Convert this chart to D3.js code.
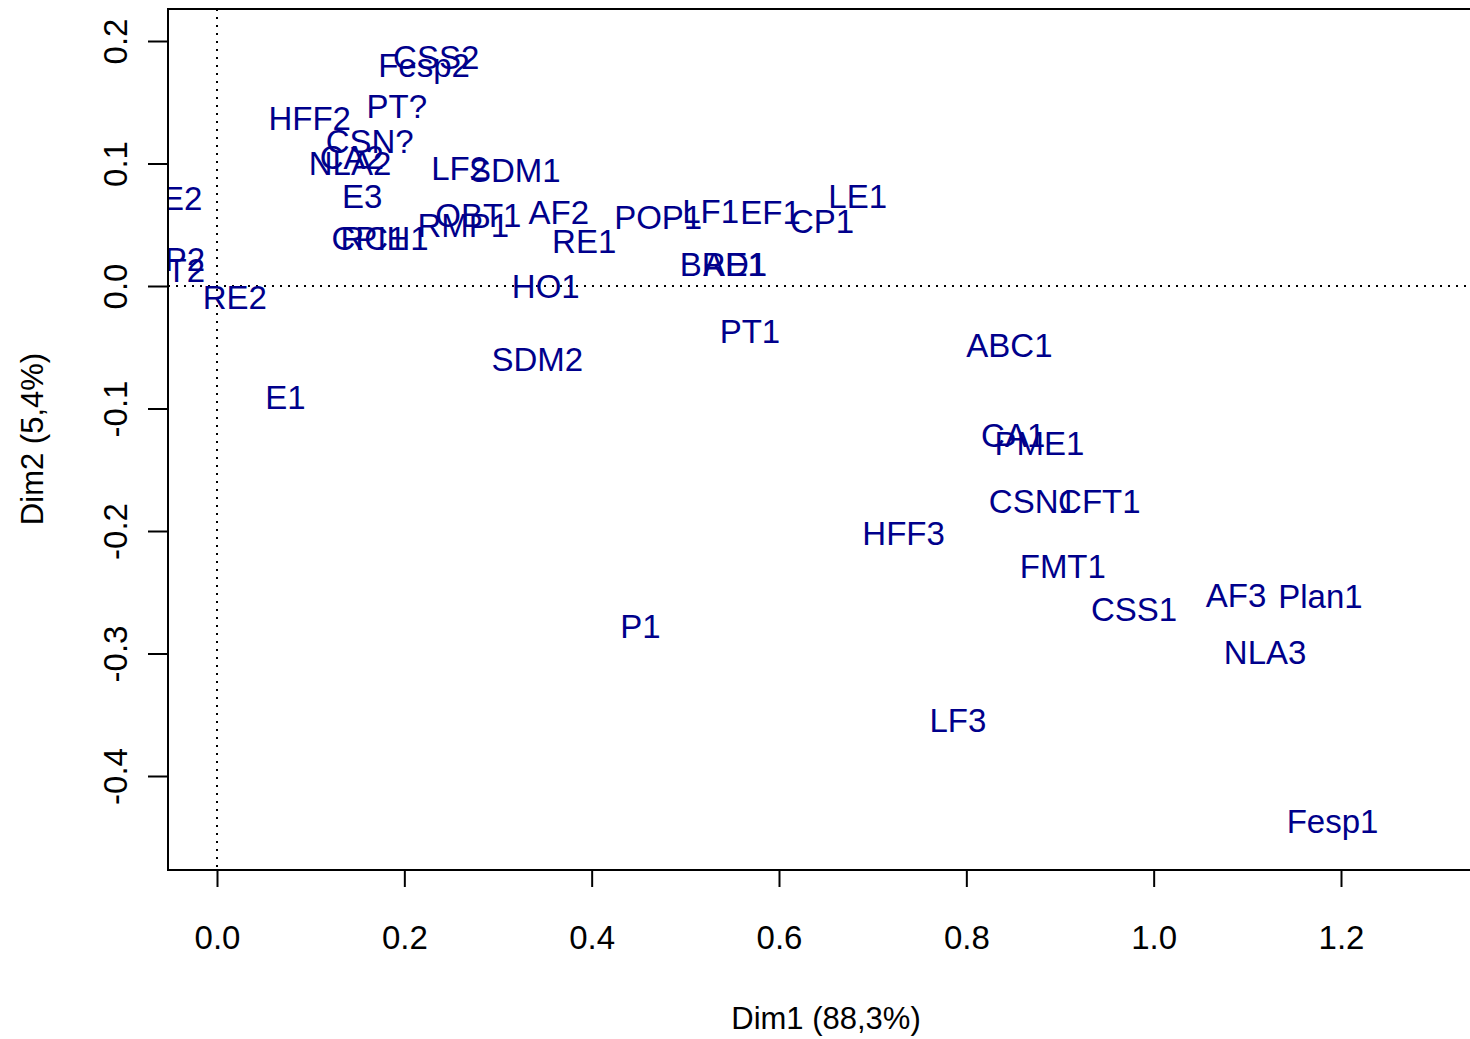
<!DOCTYPE html>
<html>
<head>
<meta charset="utf-8">
<script src="https://cdn.jsdelivr.net/npm/d3@7"></script>
<style>
  body { margin: 0; background: #fff; }
  text { font-family: "Liberation Sans", Arial, Helvetica, sans-serif; }
</style>
</head>
<body>
<svg width="1470" height="1039"></svg>
<script>
// CA factor map labels: name, Dim1, Dim2
const labels = ['CSS2', 'Fesp2', 'PT?', 'HFF2', 'CSN?', 'NLA2', 'CA2', 'LF2', 'SDM1', 'E3',
  'CPIH1', 'RC1', 'OBT1', 'RMP1', 'AF2', 'RE1', 'POP1', 'LF1', 'EF1', 'CP1', 'LE1',
  'BRE1', 'AD1', 'HO1', 'RE2', 'LE2', 'CP2', 'PT2', 'PT1', 'SDM2', 'E1', 'P1',
  'ABC1', 'CA1', 'PME1', 'CSN1', 'CFT1', 'HFF3', 'FMT1', 'CSS1', 'AF3', 'Plan1',
  'NLA3', 'LF3', 'Fesp1']
const dim1 = [0.234, 0.221, 0.192, 0.099, 0.163, 0.142, 0.144, 0.259, 0.318, 0.155,
  0.174, 0.167, 0.279, 0.263, 0.365, 0.392, 0.471, 0.527, 0.591, 0.646, 0.684,
  0.540, 0.553, 0.351, 0.019, -0.047, -0.047, -0.045, 0.569, 0.342, 0.073, 0.452,
  0.846, 0.850, 0.878, 0.871, 0.942, 0.733, 0.903, 0.979, 1.088, 1.178,
  1.119, 0.791, 1.191]
const dim2 = [0.187, 0.180, 0.147, 0.137, 0.118, 0.100, 0.105, 0.096, 0.095, 0.073,
  0.039, 0.039, 0.058, 0.050, 0.060, 0.037, 0.056, 0.061, 0.060, 0.053, 0.073,
  0.018, 0.018, 0.000, -0.009, 0.072, 0.022, 0.013, -0.037, -0.060, -0.091, -0.278,
  -0.048, -0.122, -0.128, -0.176, -0.176, -0.202, -0.229, -0.264, -0.252, -0.253,
  -0.299, -0.354, -0.437]

const xTicks = [0, 0.2, 0.4, 0.6, 0.8, 1.0, 1.2]
const yTicks = [-0.4, -0.3, -0.2, -0.1, 0.0, 0.1, 0.2]
const xTitle = 'Dim1 (88,3%)'
const yTitle = 'Dim2 (5,4%)'

const svg = d3.select('svg')
const box = { left: 168, right: 1471, top: 9, bottom: 870 }
const fontSize = 33
const fmt = d => d.toFixed(1)   // plain hyphen like R

const x = d3.scaleLinear().domain([0, 1.2]).range([217, 1341])
const y = d3.scaleLinear().domain([0, 0.2]).range([286, 41])

svg.append('clipPath').attr('id', 'plotclip')
  .append('rect')
    .attr('x', box.left).attr('y', box.top)
    .attr('width', box.right - box.left).attr('height', box.bottom - box.top)

// dotted axes through origin
const guides = svg.append('g').attr('clip-path', 'url(#plotclip)')
guides.append('line')
  .attr('x1', box.left).attr('x2', box.right)
  .attr('y1', y(0)).attr('y2', y(0))
guides.append('line')
  .attr('x1', x(0)).attr('x2', x(0))
  .attr('y1', box.top).attr('y2', box.bottom)
guides.selectAll('line')
  .attr('stroke', '#000')
  .attr('stroke-width', 2)
  .attr('stroke-dasharray', '2,6')

// labels
svg.append('g')
  .attr('clip-path', 'url(#plotclip)')
  .selectAll('text')
  .data(labels)
  .enter().append('text')
    .attr('x', (d, i) => x(dim1[i]))
    .attr('y', (d, i) => y(dim2[i]))
    .attr('dy', '0.36em')
    .attr('text-anchor', 'middle')
    .attr('font-size', fontSize)
    .attr('fill', '#00008B')
    .text(d => d)

// box
svg.append('rect')
  .attr('x', box.left).attr('y', box.top)
  .attr('width', box.right - box.left).attr('height', box.bottom - box.top)
  .attr('fill', 'none').attr('stroke', '#000').attr('stroke-width', 2)

// x axis
const xAxis = svg.append('g')
  .attr('transform', `translate(0,${box.bottom})`)
  .call(d3.axisBottom(x).tickValues(xTicks).tickFormat(fmt).tickSize(17).tickPadding(39))
xAxis.select('.domain')
  .attr('d', `M${x(0)},0H${x(1.2)}`)

// y axis
const yAxis = svg.append('g')
  .attr('transform', `translate(${box.left},0)`)
  .call(d3.axisLeft(y).tickValues(yTicks).tickFormat(fmt).tickSize(20))
yAxis.select('.domain')
  .attr('d', `M0,${y(-0.4)}V${y(0.2)}`)
yAxis.selectAll('.tick text')
  .attr('x', 0).attr('dy', 0)
  .attr('transform', 'translate(-53,0) rotate(-90)')
  .attr('text-anchor', 'middle')
  .attr('dominant-baseline', 'central')

svg.selectAll('.tick line, .domain')
  .attr('stroke', '#000').attr('stroke-width', 2)
svg.selectAll('.tick text')
  .attr('font-size', fontSize)
  .attr('font-family', '"Liberation Sans", Arial, sans-serif')
  .attr('fill', '#000')

// axis titles
svg.append('text')
  .attr('x', 826).attr('y', 1018)
  .attr('dy', '0.36em')
  .attr('text-anchor', 'middle')
  .attr('font-size', 31)
  .text(xTitle)

svg.append('text')
  .attr('transform', 'translate(32,439) rotate(-90)')
  .attr('dy', '0.36em')
  .attr('text-anchor', 'middle')
  .attr('font-size', 31)
  .text(yTitle)
</script>
</body>
</html>
